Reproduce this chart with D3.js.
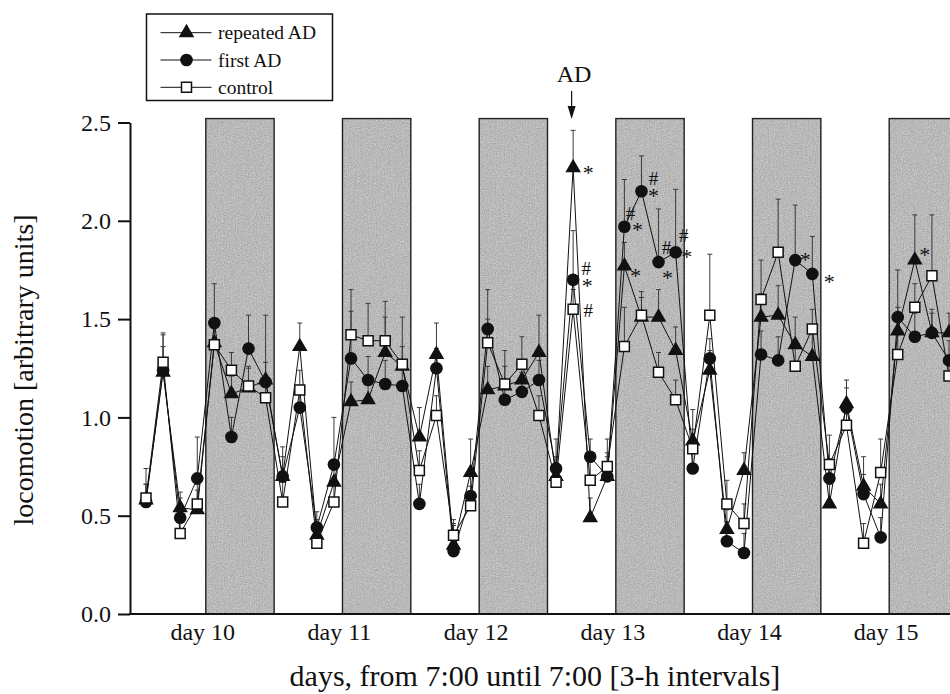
<!DOCTYPE html>
<html>
<head>
<meta charset="utf-8">
<script src="https://cdn.jsdelivr.net/npm/d3@7"></script>
<style>
  html, body { margin: 0; padding: 0; background: #fff; }
  svg { display: block; font-family: "Liberation Serif", "Times New Roman", serif; }
</style>
</head>
<body>
<svg id="chart" width="950" height="694"></svg>
<script>
// Locomotion per 3-h interval, days 10-15 (48 intervals, 7:00 to 7:00)
const repeatedAD = [0.58,1.23,0.54,0.53,1.38,1.12,1.15,1.19, 0.70,1.36,0.40,0.67,1.08,1.09,1.33,1.26,
                    0.90,1.32,0.35,0.72,1.14,1.16,1.19,1.33, 0.70,2.27,0.49,0.70,1.77,1.51,1.51,1.34,
                    0.88,1.24,0.43,0.73,1.51,1.52,1.37,1.31, 0.56,1.07,0.65,0.56,1.44,1.80,1.43,1.43];
const firstAD    = [0.57,1.24,0.49,0.69,1.48,0.90,1.35,1.18, 0.70,1.05,0.44,0.76,1.30,1.19,1.17,1.16,
                    0.56,1.25,0.32,0.60,1.45,1.09,1.13,1.19, 0.74,1.70,0.80,0.70,1.97,2.15,1.79,1.84,
                    0.74,1.30,0.37,0.31,1.32,1.29,1.80,1.73, 0.69,1.05,0.61,0.39,1.51,1.41,1.43,1.29];
const control    = [0.59,1.28,0.41,0.56,1.37,1.24,1.16,1.10, 0.57,1.14,0.36,0.57,1.42,1.39,1.39,1.27,
                    0.73,1.01,0.40,0.55,1.38,1.17,1.27,1.01, 0.67,1.55,0.68,0.75,1.36,1.52,1.23,1.09,
                    0.84,1.52,0.56,0.46,1.60,1.84,1.26,1.45, 0.76,0.96,0.36,0.72,1.32,1.56,1.72,1.21];

// Upper error (SEM) for each interval
const repeatedErr = [0.08,0.19,0.08,0.10,0.10,0.09,0.10,0.33, 0.10,0.12,0.08,0.10,0.10,0.12,0.26,0.10,
                     0.15,0.16,0.10,0.17,0.12,0.10,0.10,0.19, 0.10,0.19,0.10,0.10,0.12,0.10,0.14,0.12,
                     0.16,0.10,0.10,0.09,0.12,0.15,0.14,0.12, 0.10,0.12,0.15,0.10,0.12,0.23,0.10,0.10];
const firstErr    = [0.17,0.12,0.10,0.21,0.20,0.10,0.17,0.10, 0.15,0.10,0.08,0.24,0.35,0.12,0.12,0.10,
                     0.10,0.10,0.14,0.10,0.20,0.10,0.10,0.10, 0.15,0.25,0.09,0.12,0.24,0.18,0.27,0.32,
                     0.10,0.10,0.10,0.10,0.12,0.12,0.28,0.19, 0.10,0.10,0.10,0.10,0.24,0.12,0.12,0.10];
const controlErr  = [0.07,0.15,0.10,0.10,0.10,0.09,0.10,0.10, 0.10,0.10,0.10,0.10,0.12,0.19,0.12,0.24,
                     0.10,0.10,0.08,0.10,0.12,0.17,0.14,0.10, 0.10,0.10,0.10,0.14,0.20,0.12,0.10,0.10,
                     0.10,0.31,0.12,0.10,0.20,0.27,0.10,0.10, 0.15,0.10,0.10,0.17,0.10,0.12,0.31,0.10];

const seriesNames = ["repeated AD", "first AD", "control"];
const dayLabels = ["day 10", "day 11", "day 12", "day 13", "day 14", "day 15"];
const yTicks = [0.0, 0.5, 1.0, 1.5, 2.0, 2.5];
const darkStartHour = [12, 36, 60, 84, 108, 132];   // 19:00 of each day, hours after 7:00 of day 10
const darkLength = 12;
const intervalHours = 3;
const adInterval = 25;

// Significance marks: * vs. baseline, # vs. control
const significance = [
  { series: 0, i: 25, marks: "*" },
  { series: 1, i: 25, marks: "#*" },
  { series: 2, i: 25, marks: "#" },
  { series: 1, i: 28, marks: "#*" },
  { series: 0, i: 28, marks: "*" },
  { series: 1, i: 29, marks: "#*" },
  { series: 1, i: 30, marks: "#*" },
  { series: 1, i: 31, marks: "#*" },
  { series: 1, i: 38, marks: "*" },
  { series: 1, i: 39, marks: "*" },
  { series: 0, i: 45, marks: "*" }
];
// offset of each mark from its marker, in the same order as above
const sigOffsets = [
  [[15, 0]],
  [[13, -12], [14, 1]],
  [[15, 1]],
  [[6, -14], [13, -2]],
  [[11, 5]],
  [[12, -13], [12, 0]],
  [[8, -15], [9, 11]],
  [[8, -17], [11, 0]],
  [[10, -5]],
  [[17, 3]],
  [[10, -10]]
];

const values = [repeatedAD, firstAD, control];
const errors = [repeatedErr, firstErr, controlErr];

const svg = d3.select("#chart");
const FONT = '"Liberation Serif", "Times New Roman", serif';

const x = d3.scaleLinear().domain([0, 144]).range([137.46, 137.46 + 144 * 5.695]);
const y = d3.scaleLinear().domain([0, 2.5]).range([614, 122.5]);
const xAt = i => x(intervalHours / 2 + intervalHours * i);

// grain for the shaded dark phases
const defs = svg.append("defs");
const grain = defs.append("filter").attr("id", "grain")
  .attr("x", 0).attr("y", 0).attr("width", 1).attr("height", 1)
  .attr("color-interpolation-filters", "sRGB");
grain.append("feTurbulence").attr("type", "fractalNoise").attr("baseFrequency", 0.85)
  .attr("numOctaves", 2).attr("seed", 3).attr("result", "noise");
grain.append("feColorMatrix").attr("in", "noise").attr("type", "matrix")
  .attr("values", "0.33 0.33 0.33 0 0  0.33 0.33 0.33 0 0  0.33 0.33 0.33 0 0  0 0 0 0 1")
  .attr("result", "gnoise");
grain.append("feComposite").attr("in", "SourceGraphic").attr("in2", "gnoise")
  .attr("operator", "arithmetic").attr("k1", 0).attr("k2", 1).attr("k3", 0.45).attr("k4", -0.22)
  .attr("result", "mix");
grain.append("feComposite").attr("in", "mix").attr("in2", "SourceGraphic").attr("operator", "in");

// dark phases
svg.append("g").selectAll("rect").data(darkStartHour).join("rect")
  .attr("x", d => x(d))
  .attr("y", y(2.52))
  .attr("width", d => x(d + darkLength) - x(d))
  .attr("height", d => y(0) - y(2.52))
  .attr("fill", "#b8b8b8")
  .attr("filter", "url(#grain)");
svg.append("g").selectAll("rect").data(darkStartHour).join("rect")
  .attr("x", d => x(d))
  .attr("y", y(2.52))
  .attr("width", d => x(d + darkLength) - x(d))
  .attr("height", d => y(0) - y(2.52))
  .attr("fill", "none")
  .attr("stroke", "#222")
  .attr("stroke-width", 1.4);

// error bars (upward only)
const eb = svg.append("g").attr("stroke", "#3a3a3a").attr("stroke-width", 1);
values.forEach((vals, s) => {
  vals.forEach((v, i) => {
    const top = v + errors[s][i];
    eb.append("line").attr("x1", xAt(i)).attr("x2", xAt(i)).attr("y1", y(v)).attr("y2", y(top));
    eb.append("line").attr("x1", xAt(i) - 2.5).attr("x2", xAt(i) + 2.5).attr("y1", y(top)).attr("y2", y(top));
  });
});

// connecting lines
const line = d3.line().x((d, i) => xAt(i)).y(d => y(d));
values.forEach(vals => {
  svg.append("path").datum(vals).attr("d", line)
    .attr("fill", "none").attr("stroke", "#111").attr("stroke-width", 1);
});

// markers
const symTri = d3.symbol(d3.symbolTriangle, 105);
const symCirc = d3.symbol(d3.symbolCircle, 125);
const symSq = d3.symbol(d3.symbolSquare, 100);
function drawMarker(g, s, cx, cy) {
  if (s === 0) {
    g.append("path").attr("d", symTri()).attr("transform", `translate(${cx},${cy})`).attr("fill", "#111");
  } else if (s === 1) {
    g.append("path").attr("d", symCirc()).attr("transform", `translate(${cx},${cy})`).attr("fill", "#111");
  } else {
    g.append("path").attr("d", symSq()).attr("transform", `translate(${cx},${cy})`)
      .attr("fill", "#fff").attr("stroke", "#111").attr("stroke-width", 1.5);
  }
}
const markers = svg.append("g");
values.forEach((vals, s) => vals.forEach((v, i) => drawMarker(markers, s, xAt(i), y(v))));

// significance marks (stacked marks share one text element)
const sigText = svg.append("g").selectAll("text").data(significance).join("text")
  .attr("text-anchor", "middle")
  .attr("font-family", FONT)
  .attr("fill", "#111");
sigText.each(function (d, k) {
  const t = d3.select(this);
  const px = xAt(d.i), py = y(values[d.series][d.i]);
  d.marks.split("").forEach((m, j) => {
    t.append("tspan")
      .attr("x", px + sigOffsets[k][j][0])
      .attr("y", py + sigOffsets[k][j][1] + (m === "*" ? 12 : 7))
      .attr("font-size", m === "*" ? 22 : 19)
      .text(m);
  });
});

// AD arrow
const adX = xAt(adInterval) - 1.5;
svg.append("text").attr("x", adX + 2.5).attr("y", 82).attr("text-anchor", "middle")
  .attr("font-family", FONT).attr("font-size", 24).attr("fill", "#111").text("AD");
svg.append("line").attr("x1", adX).attr("x2", adX).attr("y1", 91).attr("y2", 110)
  .attr("stroke", "#111").attr("stroke-width", 1.2);
svg.append("path").attr("d", `M${adX - 4},${106} L${adX + 4},${106} L${adX},${119} Z`).attr("fill", "#111");

// y axis
const yAxis = svg.append("g").attr("transform", "translate(130,0)")
  .call(d3.axisLeft(y).tickValues(yTicks).tickFormat(d3.format(".1f")).tickSize(12).tickSizeOuter(0).tickPadding(7));
yAxis.select(".domain").attr("stroke", "#111").attr("stroke-width", 2);
yAxis.selectAll(".tick line").attr("stroke", "#111").attr("stroke-width", 2);
yAxis.selectAll(".tick text").attr("font-family", FONT).attr("font-size", 24).attr("fill", "#111");

// x axis baseline and day labels
svg.append("line").attr("x1", 129).attr("x2", 950).attr("y1", y(0)).attr("y2", y(0))
  .attr("stroke", "#111").attr("stroke-width", 2);
svg.append("g").selectAll("text").data(dayLabels).join("text")
  .attr("x", (d, k) => x(darkStartHour[k]) - 3)
  .attr("y", 640)
  .attr("text-anchor", "middle")
  .attr("font-family", FONT).attr("font-size", 24).attr("fill", "#111")
  .text(d => d);

// axis titles
svg.append("text").attr("x", 535).attr("y", 686).attr("text-anchor", "middle")
  .attr("font-family", FONT).attr("font-size", 30).attr("fill", "#111")
  .text("days, from 7:00 until 7:00 [3-h intervals]");
svg.append("text").attr("transform", "translate(33,370) rotate(-90)").attr("text-anchor", "middle")
  .attr("font-family", FONT).attr("font-size", 28).attr("fill", "#111")
  .text("locomotion [arbitrary units]");

// legend
const legend = svg.append("g");
legend.append("rect").attr("x", 146.5).attr("y", 14).attr("width", 186).attr("height", 86.5)
  .attr("fill", "#fff").attr("stroke", "#111").attr("stroke-width", 1.5);
const legendRows = [32.7, 60, 87.3];
seriesNames.forEach((name, s) => {
  const ly = legendRows[s];
  legend.append("line").attr("x1", 160.5).attr("x2", 211.5).attr("y1", ly).attr("y2", ly)
    .attr("stroke", "#111").attr("stroke-width", 1);
  drawMarker(legend, s, 186.5, ly);
  legend.append("text").attr("x", 218).attr("y", ly + 6.5)
    .attr("font-family", FONT).attr("font-size", 19.5).attr("fill", "#111").text(name);
});
</script>
</body>
</html>
